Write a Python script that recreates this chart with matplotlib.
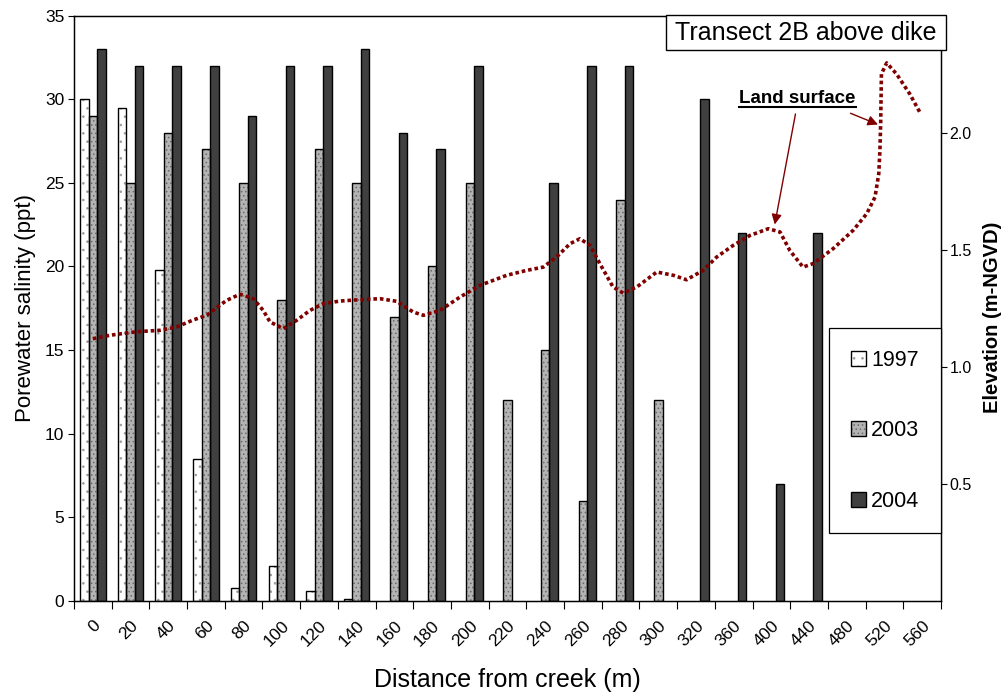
import numpy as np
import matplotlib
matplotlib.use('Agg')
import matplotlib.pyplot as plt
from matplotlib.patches import Patch, Rectangle
from matplotlib.lines import Line2D
from matplotlib.legend_handler import HandlerTuple

plt.rcParams['font.family'] = ['Liberation Sans', 'DejaVu Sans']
plt.rcParams['hatch.linewidth'] = 0.6

distances = ['0', '20', '40', '60', '80', '100', '120', '140', '160', '180',
             '200', '220', '240', '260', '280', '300', '320', '360', '400',
             '440', '480', '520', '560']

# porewater salinity (ppt), nan = no sample
sal_1997 = [30, 29.5, 19.8, 8.5, 0.8, 2.1, 0.6, 0.1, np.nan, np.nan,
            np.nan, np.nan, np.nan, np.nan, np.nan, np.nan, np.nan, np.nan,
            np.nan, np.nan, np.nan, np.nan, np.nan]
sal_2003 = [29, 25, 28, 27, 25, 18, 27, 25, 17, 20, 25, 12, 15, 6, 24, 12,
            np.nan, np.nan, np.nan, np.nan, np.nan, np.nan, np.nan]
sal_2004 = [33, 32, 32, 32, 29, 32, 32, 33, 28, 27, 32, np.nan, 25, 32, 32,
            np.nan, 30, 22, 7, 22, np.nan, np.nan, np.nan]

# land surface elevation, position along the category axis (m-NGVD)
elev_pos = [0.0, 0.46, 1.16, 1.78, 2.22, 2.66, 3.02, 3.37, 3.55, 3.9, 4.26,
            4.52, 4.7, 5.05, 5.41, 5.76, 6.11, 6.56, 7.09, 7.62, 8.06, 8.5,
            8.77, 9.21, 9.74, 10.27, 10.98, 11.51, 11.95, 12.3, 12.66, 12.92,
            13.19, 13.45, 13.8, 14.07, 14.43, 14.96, 15.4, 15.75, 16.19,
            16.55, 16.99, 17.43, 17.92, 18.23, 18.49, 18.84, 19.11, 19.64,
            20.17, 20.53, 20.75, 20.85, 20.88, 20.9, 20.92, 21.06, 21.32,
            21.67, 21.94]
elev_m = [1.12, 1.135, 1.15, 1.156, 1.17, 1.2, 1.22, 1.263, 1.284, 1.31,
          1.291, 1.241, 1.192, 1.163, 1.199, 1.241, 1.27, 1.281, 1.287, 1.291,
          1.28, 1.234, 1.22, 1.241, 1.298, 1.348, 1.391, 1.412, 1.426, 1.469,
          1.526, 1.547, 1.519, 1.441, 1.341, 1.315, 1.341, 1.405, 1.391,
          1.372, 1.412, 1.469, 1.519, 1.561, 1.59, 1.576, 1.497, 1.426,
          1.441, 1.505, 1.583, 1.654, 1.725, 1.825, 1.924, 2.038, 2.251,
          2.298, 2.251, 2.166, 2.087]


def draw_bars(ax, pos, vals, face, hatch, hatch_col):
    vals = np.array(vals, dtype=float)
    keep = ~np.isnan(vals)
    ax.bar(pos[keep], vals[keep], width=bw, color=face, hatch=hatch,
           edgecolor=hatch_col, linewidth=0, zorder=2)
    ax.bar(pos[keep], vals[keep], width=bw, fill=False, edgecolor='black',
           linewidth=1.0, zorder=3)


fig = plt.figure(figsize=(10.05, 6.98), dpi=100)
ax = fig.add_axes([0.0736, 0.139, 0.8627, 0.8386])

x = np.arange(len(distances))
bw = 0.225
draw_bars(ax, x - bw, sal_1997, 'white', '..', '#9a9a9a')
draw_bars(ax, x, sal_2003, '#b4b4b4', '....', '#6a6a6a')
draw_bars(ax, x + bw, sal_2004, '#404040', None, '#404040')

ax.set_xlim(-0.5, len(distances) - 0.5)
ax.set_ylim(0, 35)
ax.set_yticks(np.arange(0, 36, 5))
ax.tick_params(axis='y', direction='out', length=4, labelsize=12.5, pad=3)
ax.set_xticks(np.arange(len(distances) + 1) - 0.5)
ax.set_xticklabels([])
ax.set_xticks(x, minor=True)
ax.set_xticklabels(distances, minor=True, rotation=45, ha='right',
                   rotation_mode='anchor', fontsize=12.5)
ax.tick_params(axis='x', which='major', direction='out', length=6)
ax.tick_params(axis='x', which='minor', length=0, pad=12)
for s in ax.spines.values():
    s.set_linewidth(1.0)

ax.set_ylabel('Porewater salinity (ppt)', fontsize=16)
ax.yaxis.set_label_coords(-0.044, 0.5)
ax.set_xlabel('Distance from creek (m)', fontsize=18)
ax.xaxis.set_label_coords(0.5, -0.115)

ax2 = ax.twinx()
ax2.set_ylim(0, 2.5)
ax2.set_yticks([0.5, 1.0, 1.5, 2.0])
ax2.set_yticklabels(['0.5', '1.0', '1.5', '2.0'])
ax2.tick_params(axis='y', direction='out', length=4, labelsize=11.5, pad=2)
ax2.plot(elev_pos, elev_m, color='#800000', lw=2.6,
         linestyle=(0, (1, 0.8)), dash_capstyle='butt', zorder=4)
ax2.set_ylabel('Elevation (m-NGVD)', fontsize=14.5, fontweight='bold',
               rotation=90)
ax2.yaxis.set_label_coords(1.049, 0.484)

# land surface label + arrows
lbl = ax2.text(18.69, 2.125, 'Land surface', fontsize=13.5,
               fontweight='bold', ha='center', va='baseline')
arrow_kw = dict(arrowstyle='-|>', color='#800000', lw=1.0, mutation_scale=15,
                shrinkA=0, shrinkB=0)
ax2.annotate('', xy=(18.09, 1.608), xytext=(18.64, 2.08), arrowprops=arrow_kw)
ax2.annotate('', xy=(20.83, 2.035), xytext=(20.10, 2.083), arrowprops=arrow_kw)

# legend
h97 = (Patch(facecolor='white', hatch='..', edgecolor='#9a9a9a', lw=0),
       Patch(fill=False, edgecolor='black', lw=1))
h03 = (Patch(facecolor='#b4b4b4', hatch='....', edgecolor='#6a6a6a', lw=0),
       Patch(fill=False, edgecolor='black', lw=1))
h04 = (Patch(facecolor='#404040', edgecolor='black', lw=1),)
leg = ax2.legend([h97, h03, h04], ['1997', '2003', '2004'],
                 handler_map={tuple: HandlerTuple(ndivide=1, pad=0)},
                 loc='upper right', bbox_to_anchor=(1.0, 0.466),
                 borderaxespad=0, fontsize=15.5, handlelength=0.7,
                 handleheight=0.7, handletextpad=0.25, labelspacing=2.3,
                 borderpad=1.0, fancybox=False, framealpha=1,
                 edgecolor='black')
leg.get_frame().set_linewidth(0.9)

# title box
fig.add_artist(Rectangle((666 / 1005, 1 - 50 / 698), 280 / 1005, 35 / 698,
                         transform=fig.transFigure, facecolor='white',
                         edgecolor='black', lw=1.0, zorder=5))
fig.text(806 / 1005, 1 - 32.5 / 698, 'Transect 2B above dike', fontsize=18,
         ha='center', va='center', zorder=6)

# underline the land surface label
fig.canvas.draw()
bb = lbl.get_window_extent().transformed(fig.transFigure.inverted())
uy = bb.y0 + 0.05 * bb.height
fig.add_artist(Line2D([bb.x0, bb.x1], [uy, uy], transform=fig.transFigure,
                      color='black', lw=1.5))

fig.savefig('out.png', dpi=100)
